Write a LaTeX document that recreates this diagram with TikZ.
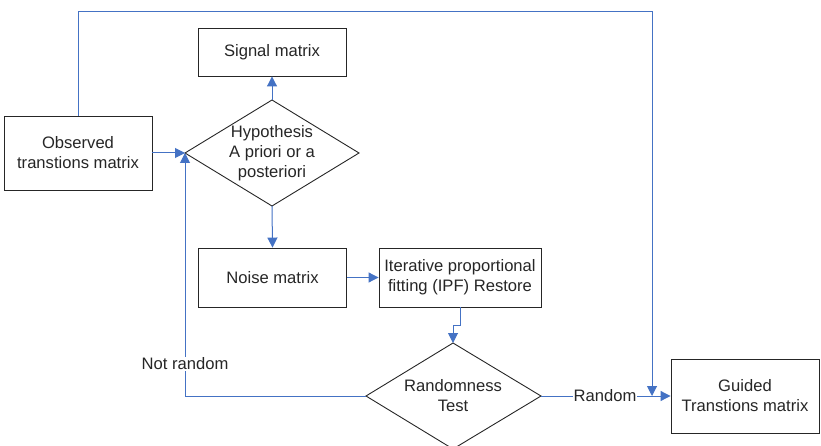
\documentclass[tikz,border=0pt]{standalone}
\usepackage{fontspec}
\setmainfont{Liberation Sans}
\usetikzlibrary{arrows.meta}
\definecolor{flowblue}{HTML}{4472C4}
\begin{document}
\begin{tikzpicture}[x=1pt,y=-1pt,
  every node/.style={font=\fontsize{16.6}{20}\selectfont, text=black!85},
  boxnode/.style={draw=black!85, line width=0.9pt, minimum width=148pt, inner sep=0pt, align=center},
  shapeline/.style={draw=black!85, line width=0.9pt},
  conn/.style={draw=flowblue, line width=1pt},
  arr/.style={conn, -{Triangle[width=10pt,length=10pt]}},
  lbl/.style={fill=white, inner sep=1pt}
]
\useasboundingbox (0,0) rectangle (821,446);

% boxes
\node[boxnode, minimum height=48pt] (sig) at (272,52) {Signal matrix};
\node[boxnode, minimum height=74pt] (obs) at (78,153) {Observed\\transtions matrix};
\node[boxnode, minimum height=59pt] (noise) at (272.5,277.5) {Noise matrix};
\node[boxnode, minimum width=162pt, minimum height=59pt] (ipf) at (460,277.5) {Iterative proportional\\fitting (IPF) Restore};
\node[boxnode, minimum height=74pt] (guid) at (745,396) {Guided\\Transtions matrix};

% hypothesis diamond
\coordinate (hT) at (272,100);
\coordinate (hR) at (359,153);
\coordinate (hB) at (272,206);
\coordinate (hL) at (185,153);
\path[shapeline] (hL) -- (hT) -- (hR) -- (hB) -- cycle;
\node[align=center] (hyp) at (272,153) {Hypothesis\\A priori or a\\posteriori};

% randomness diamond
\coordinate (rT) at (453,343);
\coordinate (rR) at (541,396);
\coordinate (rB) at (453,449);
\coordinate (rL) at (366,396);
\path[shapeline] (rL) -- (rT) -- (rR) -- (rB) -- cycle;
\node[align=center] (rnd) at (453,396) {Randomness\\Test};

% helper coordinates
\coordinate (topL) at (78,12);
\coordinate (topR) at (652,12);
\coordinate (guidIn) at (652,396);
\coordinate (ipfA) at (460,325);
\coordinate (ipfB) at (453,325);
\coordinate (loopC) at (185,396);

% connectors
\draw[arr] (obs.east) -- (hL);
\draw[arr] (hT) -- (sig.south);
\draw[arr] (hB) -- (noise.north);
\draw[arr] (noise.east) -- (ipf.west);
\draw[arr] (ipf.south) -- (ipfA) -- (ipfB) -- (rT);
\draw[arr] (rL) -- (loopC) -- (hL);
\draw[arr] (rR) -- (guid.west);
\draw[arr] (obs.north) -- (topL) -- (topR) -- (guidIn);

% labels
\node[lbl] (nrl) at (185,364) {Not random};
\node[lbl] (rl) at (605,396) {Random};
\end{tikzpicture}
\end{document}
